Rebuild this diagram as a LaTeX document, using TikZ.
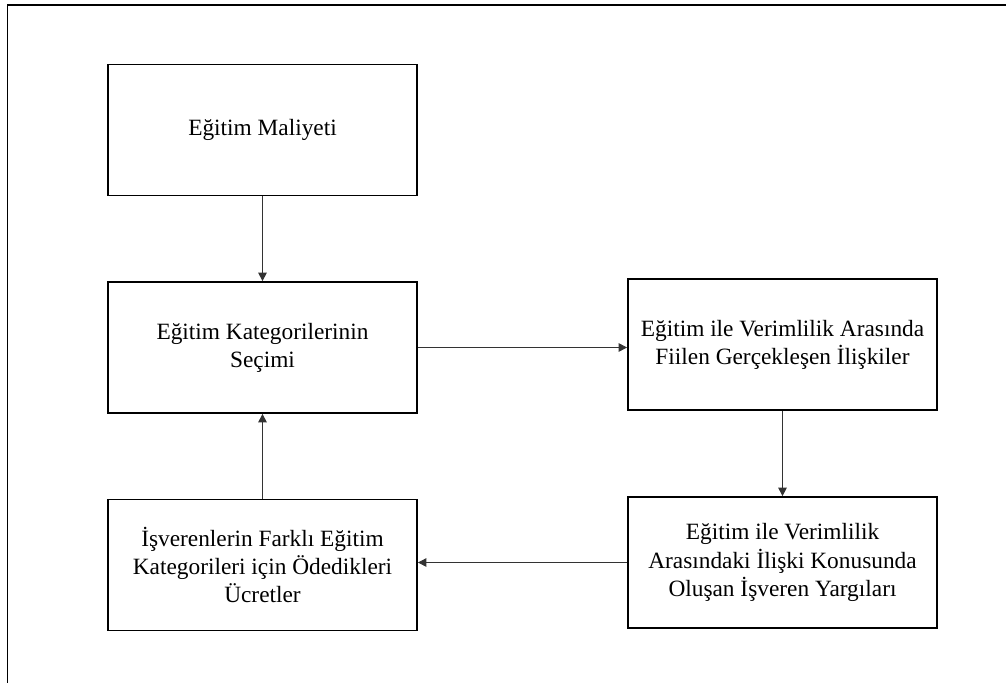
\documentclass[tikz,border=0pt]{standalone}
\usepackage{fontspec}
\setmainfont{Liberation Serif}
\usetikzlibrary{arrows.meta}
\tikzset{box/.style={shape=rectangle,draw,line width=1.2pt,minimum width=7.725cm,minimum height=3.275cm,inner sep=0pt,align=center,font=\fontsize{16.6}{20}\selectfont},
  link/.style={-{Triangle[width=6pt,length=6pt]},line width=0.6pt,draw=black!80}}

\begin{document}
\begin{tikzpicture}[x=0.025cm,y=-0.025cm]
      \useasboundingbox (0,0) rectangle (1006,683);
      \draw[line width=1.4pt] (7.5,683) -- (7.5,5) -- (1006,5);

      \node[box] (maliyet) at (262.5,130) {Eğitim Maliyeti};
      \node[box] (secim) at (262.5,347.5) {Eğitim Kategorilerinin\\Seçimi};
      \node[box] (iliski) at (782.5,344.5) {Eğitim ile Verimlilik Arasında\\Fiilen Gerçekleşen İlişkiler};
      \node[box] (yargi) at (782.5,562.5) {Eğitim ile Verimlilik\\Arasındaki İlişki Konusunda\\Oluşan İşveren Yargıları};
      \node[box] (ucret) at (262.5,565) {İşverenlerin Farklı Eğitim\\Kategorileri için Ödedikleri\\Ücretler};

\draw[link] (maliyet) -- (secim);
\draw[link] (secim) -- (iliski.west |- secim);
\draw[link] (iliski) -- (yargi);
\draw[link] (yargi) -- (ucret.east |- yargi);
\draw[link] (ucret) -- (secim);
    \end{tikzpicture}
\end{document}
